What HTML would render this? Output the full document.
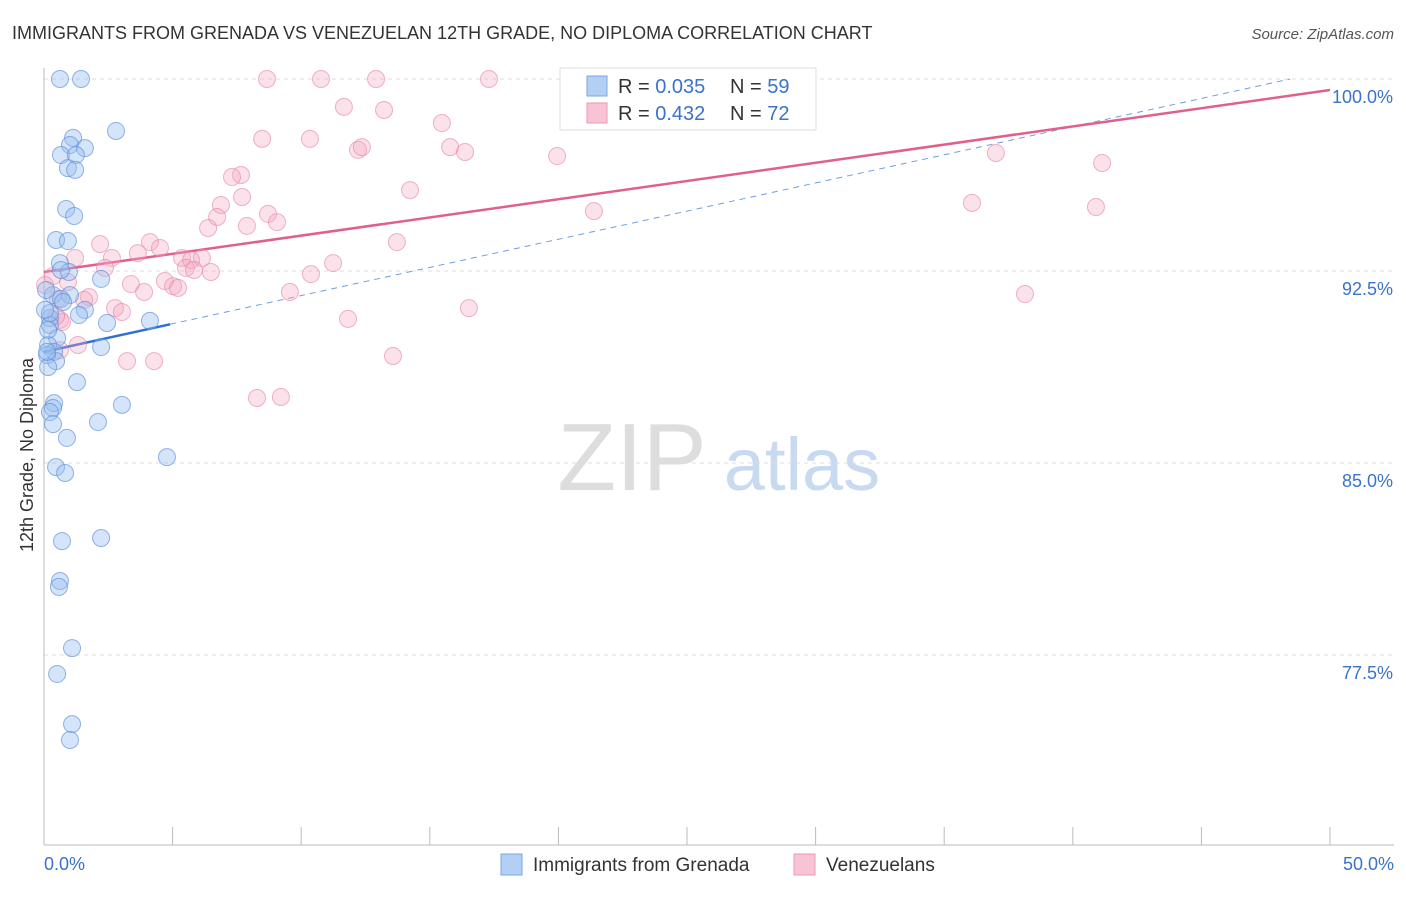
<!DOCTYPE html>
<html><head><meta charset="utf-8"><style>
body{margin:0;background:#fff;font-family:"Liberation Sans",sans-serif;}
svg text{font-family:"Liberation Sans",sans-serif;}
</style></head><body>
<svg id="c" width="1406" height="892" xmlns="http://www.w3.org/2000/svg">
<text x="12" y="39" font-size="18" fill="#333">IMMIGRANTS FROM GRENADA VS VENEZUELAN 12TH GRADE, NO DIPLOMA CORRELATION CHART</text>
<text x="1394" y="39" font-size="15" fill="#555" font-style="italic" text-anchor="end">Source: ZipAtlas.com</text>
<text x="33" y="455" font-size="18" fill="#333" text-anchor="middle" transform="rotate(-90 33 455)">12th Grade, No Diploma</text>
<g><text x="632" y="490" font-size="96" fill="#ddd" font-family="Liberation Serif" text-anchor="middle">ZIP</text><text x="802" y="490" font-size="74" fill="#c8daf0" text-anchor="middle">atlas</text></g>
<g id="grid"></g><g id="axes"></g><g id="trend"></g><g id="pts"></g>
<g>
<rect x="560" y="68" width="256" height="62" fill="#fff" stroke="#ddd"/>
<rect x="587" y="76" width="20" height="20" fill="#b4cff4" stroke="#7aa6e6"/>
<rect x="587" y="103" width="20" height="20" fill="#f8c4d4" stroke="#eb98b4"/>
<text x="618" y="93" font-size="20" fill="#333">R = <tspan fill="#3a72cc">0.035</tspan></text>
<text x="730" y="93" font-size="20" fill="#333">N = <tspan fill="#3a72cc">59</tspan></text>
<text x="618" y="120" font-size="20" fill="#333">R = <tspan fill="#3a72cc">0.432</tspan></text>
<text x="730" y="120" font-size="20" fill="#333">N = <tspan fill="#3a72cc">72</tspan></text>
</g>
<g>
<rect x="501" y="854" width="21" height="21" fill="#b4cff4" stroke="#7aa6e6"/>
<text x="533" y="871" font-size="19" fill="#333">Immigrants from Grenada</text>
<rect x="794" y="854" width="21" height="21" fill="#f8c4d4" stroke="#eb98b4"/>
<text x="826" y="871" font-size="19" fill="#333">Venezuelans</text>
</g>
</svg>
<script>
const yTicks=[100,92.5,85,77.5];
const yTickLabels=["100.0%","92.5%","85.0%","77.5%"];
const xTickLabels=["0.0%","50.0%"];
const blueX=[.62,1.44,2.80,1.13,1.01,1.59,.66,1.24,.93,1.21,.86,1.17,.47,.93,.62,.97,2.22,.35,1.01,.66,.74,1.59,1.36,.23,.23,2.45,4.12,.51,.16,2.22,.39,.12,.47,.16,1.28,3.03,.39,.35,.23,.35,2.10,.89,.47,.82,4.78,.70,2.22,.62,.58,1.09,.51,1.09,1.01,.12,.16,.23,.66,.04,.08];
const blueY=[100,100,97.97,97.70,97.42,97.30,97.03,97.03,96.52,96.45,94.92,94.65,93.71,93.67,92.81,92.46,92.19,91.56,91.56,91.41,91.29,90.98,90.78,90.66,90.39,90.47,90.55,89.88,89.61,89.53,89.34,89.22,88.98,88.75,88.16,87.27,87.34,87.15,86.99,86.52,86.60,85.98,84.84,84.61,85.23,81.95,82.07,80.39,80.16,77.77,76.76,74.80,74.18,89.34,90.20,90.86,92.54,90.98,91.76];
const pinkX=[8.67,10.77,12.91,17.30,11.66,13.22,15.47,8.48,10.34,12.21,12.36,15.79,16.37,19.95,37.01,41.14,7.66,7.31,14.23,7.70,6.88,6.73,6.38,7.89,8.71,9.06,21.38,36.08,40.90,2.18,4.12,4.51,3.65,2.64,1.21,5.37,5.72,6.14,13.72,11.24,5.52,5.83,2.37,6.49,10.38,.93,3.38,4.70,5.02,5.21,3.89,9.56,38.14,1.75,.54,1.56,2.76,3.03,16.52,.62,.70,11.82,1.32,.62,3.23,4.28,13.57,8.28,9.21,.35,.04,.47];
const pinkY=[100,100,100,100,98.91,98.79,98.28,97.66,97.66,97.23,97.34,97.34,97.15,96.99,97.11,96.72,96.25,96.17,95.66,95.39,95.08,94.61,94.18,94.26,94.73,94.41,94.84,95.16,95.00,93.55,93.63,93.40,93.20,93.01,93.01,93.01,92.93,93.01,93.63,92.81,92.62,92.54,92.62,92.46,92.38,92.07,91.99,92.11,91.91,91.84,91.68,91.68,91.60,91.48,91.41,91.37,91.05,90.90,91.05,90.59,90.51,90.63,89.61,89.41,88.98,88.98,89.18,87.54,87.58,92.30,91.95,90.74];
const blueTrend=[89.34,0.22];
const pinkTrend=[92.46,0.1422];
const NS="http://www.w3.org/2000/svg";
const sx=v=>44+v*25.72, sy=v=>79+(100-v)*25.6;
function mk(t,a,p){const e=document.createElementNS(NS,t);for(const k in a)e.setAttribute(k,a[k]);p.appendChild(e);return e;}
const grid=document.getElementById('grid'),axes=document.getElementById('axes');
yTicks.forEach((v,i)=>{
 const l=mk('line',{x1:44,x2:1394,y1:sy(v),y2:sy(v),stroke:'#ddd','stroke-dasharray':'4 4'},grid);
 
 
 const t=mk('text',{x:1393,y:sy(v)+24,'font-size':18,fill:'#3a72cc','text-anchor':'end'},axes);t.textContent=yTickLabels[i];
 
 
});
const ax=mk('line',{x1:44,x2:1394,y1:845,y2:845,stroke:'#bbb'},axes);


const ay=mk('line',{x1:44,x2:44,y1:68,y2:845,stroke:'#bbb'},axes);


for(let i=0;i<=10;i++){const t=mk('line',{x1:sx(i*5),x2:sx(i*5),y1:827,y2:845,stroke:'#bbb'},axes);
 
 }
[[0,'start',44],[50,'end',1394]].forEach((d,i)=>{const t=mk('text',{x:d[2],y:870,'font-size':18,fill:'#3a72cc','text-anchor':d[1]},axes);t.textContent=xTickLabels[i];
 
 });
const tr=document.getElementById('trend');
const bEnd=(100-blueTrend[0])/blueTrend[1];
const bd=mk('line',{x1:sx(4.9),y1:sy(blueTrend[0]+blueTrend[1]*4.9),x2:sx(bEnd),y2:sy(100),stroke:'#6f9fe0','stroke-dasharray':'6 5','stroke-width':1},tr);


const pl=mk('line',{x1:sx(0),y1:sy(pinkTrend[0]),x2:sx(50),y2:sy(pinkTrend[0]+pinkTrend[1]*50),stroke:'#e0608a','stroke-width':2.5},tr);


const pts=document.getElementById('pts');
pinkX.forEach((x,i)=>{const c=mk('circle',{cx:sx(x),cy:sy(pinkY[i]),r:8.5,fill:'rgba(244,170,195,0.35)',stroke:'rgba(230,130,165,0.6)'},pts);
 
 });
blueX.forEach((x,i)=>{const c=mk('circle',{cx:sx(x),cy:sy(blueY[i]),r:8.5,fill:'rgba(150,190,240,0.4)',stroke:'rgba(90,140,220,0.65)'},pts);
 
 });
const bl=mk('line',{x1:sx(0),y1:sy(blueTrend[0]),x2:sx(4.9),y2:sy(blueTrend[0]+blueTrend[1]*4.9),stroke:'#2e6fd0','stroke-width':2.5},tr);


</script>
</body></html>
